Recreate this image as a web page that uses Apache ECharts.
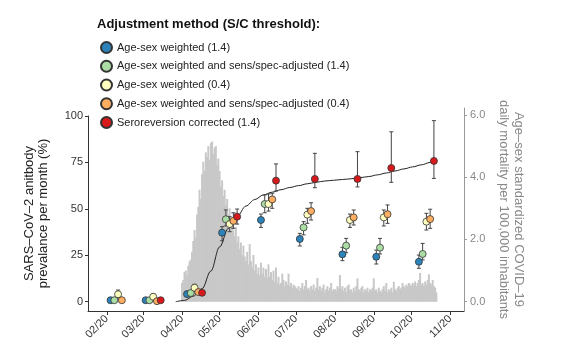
<!DOCTYPE html>
<html><head><meta charset="utf-8">
<script src="https://cdn.jsdelivr.net/npm/echarts@6/dist/echarts.min.js"></script>
<style>html,body{margin:0;padding:0;background:#fff}#c{width:564px;height:358px}</style>
</head><body><div id="c"></div>
<script>
// ---------- DATA ----------
const monthTicks = ['2020-02-01','2020-03-01','2020-04-01','2020-05-01','2020-06-01','2020-07-01','2020-08-01','2020-09-01','2020-10-01','2020-11-01'];
const leftTicks = [0, 25, 50, 75, 100];
const rightTicks = [0, 2, 4, 6];

const clusterDates = ['2020-02-10','2020-03-09','2020-04-11','2020-05-09','2020-06-09','2020-07-10','2020-08-13','2020-09-09','2020-10-13'];
const seriesNames = ['Age-sex weighted (1.4)','Age-sex weighted and sens/spec-adjusted (1.4)','Age-sex weighted (0.4)','Age-sex weighted and sens/spec-adjusted (0.4)','Seroreversion corrected (1.4)'];

const blueVal = [0.8, 0.8, 4.1, 37.2, 44.0, 33.8, 25.5, 24.2, 21.5];
const blueLo  = [0.3, 0.3, 3.0, 32.8, 40.0, 30.0, 22.1, 20.3, 18.0];
const blueHi  = [1.4, 1.4, 5.3, 40.4, 47.2, 36.8, 29.3, 27.8, 25.1];
const greenVal = [0.8, 0.8, 4.7, 44.4, 52.6, 40.0, 30.2, 29.1, 25.7];
const greenLo  = [0.2, 0.2, 3.5, 40.8, 47.9, 36.0, 26.4, 25.7, 22.5];
const greenHi  = [1.6, 1.6, 6.0, 49.4, 57.5, 43.1, 34.1, 34.1, 31.4];
const yellowVal = [4.0, 2.7, 7.5, 41.8, 52.6, 46.9, 44.0, 45.4, 43.1];
const yellowLo  = [2.0, 1.2, 5.6, 37.7, 48.8, 42.2, 40.0, 40.8, 38.6];
const yellowHi  = [6.3, 4.3, 9.4, 45.8, 58.0, 50.3, 47.2, 49.4, 47.6];
const orangeVal = [0.8, 0.3, 5.2, 43.5, 55.1, 48.8, 45.4, 47.1, 44.5];
const orangeLo  = [0.2, 0.0, 4.0, 39.5, 50.3, 44.0, 41.3, 42.2, 39.5];
const orangeHi  = [1.8, 1.2, 6.5, 47.9, 58.4, 53.3, 49.4, 52.1, 49.8];
const redVal = [null, 0.8, 4.8, 45.8, 65.2, 66.1, 66.1, 72.0, 75.8];
const redLo  = [null, 0.3, 3.8, 41.8, 59.6, 61.4, 61.8, 64.3, 66.4];
const redHi  = [null, 1.5, 6.0, 49.9, 74.2, 79.9, 80.8, 91.5, 97.5];

const curveDates = ['2020-03-27','2020-04-03','2020-04-10','2020-04-17','2020-04-24','2020-05-01','2020-05-08','2020-05-15','2020-05-22','2020-05-29','2020-06-05','2020-06-12','2020-06-19','2020-06-26','2020-07-03','2020-07-10','2020-07-17','2020-07-24','2020-07-31','2020-08-07','2020-08-14','2020-08-21','2020-08-28','2020-09-04','2020-09-11','2020-09-18','2020-09-25','2020-10-02','2020-10-09','2020-10-16','2020-10-19'];
const curveValues = [0, 0.7, 3, 7, 16.5, 29.5, 39.5, 46, 51.5, 55, 57.5, 59, 60.3, 61.5, 62.5, 63.5, 64.3, 65, 65.4, 65.8, 66.2, 66.8, 67.4, 68.3, 69.3, 70.4, 71.5, 72.6, 73.7, 75, 75.8];

const mortalityStart = '2020-04-01';
const mortApr = [0.6,0.7,0.95,1.0,0.85,1.15,1.3,1.35,1.6,1.95,2.3,2.05,2.8,3.05,3.6,3.3,4.1,4.5,4.2,4.8,4.65,5.0,4.55,5.1,5.15,4.75,4.95,5.0,4.4,4.6];
const mortMay = [4.2,3.7,3.9,3.4,3.6,3.1,3.3,2.8,3.0,2.5,2.7,2.3,2.1,2.4,1.9,2.1,1.7,1.9,1.5,1.8,1.45,1.3,1.6,1.2,1.85,1.3,1.1,1.5,1.0,1.2,0.9];
const mortJun = [1.1,0.85,1.25,0.9,1.1,0.8,1.05,0.75,1.2,0.8,0.95,0.7,1.0,0.65,1.1,0.6,0.8,0.55,0.6,0.9,0.7,0.5,0.65,0.55,0.9,0.5,0.6,0.45,0.55,0.5];
const mortJul = [0.45,0.4,0.5,0.35,0.45,0.6,0.4,0.5,0.7,0.4,0.45,0.35,0.5,0.4,0.55,0.35,0.45,0.76,0.4,0.5,0.35,0.45,0.55,0.3,0.4,0.5,0.35,0.45,0.6,0.35,0.4];
const mortAug = [0.4,0.35,0.5,0.45,0.86,0.4,0.5,0.35,0.45,0.3,0.5,0.55,0.35,0.4,0.3,0.45,0.35,0.5,0.75,0.4,0.35,0.45,0.5,0.3,0.4,0.35,0.45,0.3,0.4,0.35,0.45];
const mortSep = [0.75,0.35,0.4,0.3,0.45,0.35,0.3,0.4,0.5,0.35,0.6,0.3,0.4,0.35,0.45,0.3,0.64,0.4,0.35,0.45,0.5,0.4,0.45,0.6,0.5,0.45,0.55,0.5,0.6,0.55];
const mortOct = [0.5,0.6,0.55,0.65,0.5,0.6,0.7,0.92,0.55,0.6,0.5,0.65,0.55,0.7,0.88,0.6,0.55,0.7,0.5,0.45,0.3];

// ---------- STYLE ----------
const colors = ['#2b83ba','#abdda4','#ffffbf','#fdae61','#d7191c'];
const dodgeDays = [-6, -3, 0, 3, 6];
const FONT = "'Liberation Sans', Arial, sans-serif";
const DAY = 86400000;

function ts(s) { const p = s.split('-').map(Number); return Date.UTC(p[0], p[1] - 1, p[2]); }
function fmtMonth(v) { const d = new Date(v); return String(d.getUTCMonth() + 1).padStart(2, '0') + '/' + String(d.getUTCFullYear()).slice(2); }

const allVals = [blueVal, greenVal, yellowVal, orangeVal, redVal];
const allLo = [blueLo, greenLo, yellowLo, orangeLo, redLo];
const allHi = [blueHi, greenHi, yellowHi, orangeHi, redHi];

const mortality = [].concat(mortApr, mortMay, mortJun, mortJul, mortAug, mortSep, mortOct);
const barData = mortality.map((v, i) => [ts(mortalityStart) + i * DAY, v]);
const curveData = curveDates.map((d, i) => [ts(d), curveValues[i]]);

const errData = [];
const scatterSeries = seriesNames.map((name, k) => {
  const data = [];
  clusterDates.forEach((d, i) => {
    if (allVals[k][i] == null) return;
    const x = ts(d) + dodgeDays[k] * DAY;
    data.push([x, allVals[k][i]]);
    errData.push([x, allLo[k][i], allHi[k][i]]);
  });
  return {
    name, type: 'scatter', xAxisIndex: 0, yAxisIndex: 0, z: 5,
    symbol: 'circle', symbolSize: 7, data,
    itemStyle: { color: colors[k], borderColor: '#333', borderWidth: 0.8, opacity: 1 }
  };
});

const xMin = ts('2020-01-17'), xMax = ts('2020-11-12');
const tickVals = monthTicks.map(ts);

const option = {
  animation: false,
  textStyle: { fontFamily: FONT },
  title: {
    text: 'Adjustment method (S/C threshold):', left: 97, top: 18, padding: 0,
    textStyle: { fontFamily: FONT, fontSize: 13, fontWeight: 'bold', color: '#111' }
  },
  legend: {
    orient: 'vertical', left: 100, top: 41, padding: 0,
    itemWidth: 11, itemHeight: 11, itemGap: 5.75, icon: 'circle',
    data: seriesNames,
    textStyle: { fontFamily: FONT, fontSize: 11, color: '#222' }
  },
  grid: [
    { left: 88, right: 100, top: 116, bottom: 47 },
    { left: 88, right: 100, top: 108, bottom: 47 }
  ],
  xAxis: [
    {
      type: 'value', gridIndex: 0, min: xMin, max: xMax,
      axisLine: { show: true, onZero: false, lineStyle: { color: '#333', width: 1 } },
      axisTick: { show: true, length: 4, lineStyle: { color: '#333' }, customValues: tickVals },
      axisLabel: {
        customValues: tickVals, formatter: v => fmtMonth(v),
        rotate: 45, margin: 6, fontSize: 11, color: '#333', fontFamily: FONT
      },
      splitLine: { show: false }
    },
    { type: 'value', gridIndex: 1, min: xMin, max: xMax, show: false }
  ],
  yAxis: [
    {
      type: 'value', gridIndex: 0, min: -5, max: 100, position: 'left',
      name: 'SARS\u2013CoV\u20132 anitbody\nprevalance per month (%)',
      nameLocation: 'middle', nameRotate: 90, nameGap: 38,
      nameTextStyle: { fontFamily: FONT, fontSize: 13, lineHeight: 14, color: '#222' },
      axisLine: { show: true, onZero: false, lineStyle: { color: '#333', width: 1 } },
      axisTick: { show: true, length: 3, lineStyle: { color: '#333' }, customValues: leftTicks },
      axisLabel: { customValues: leftTicks, margin: 5, fontSize: 11, color: '#333', fontFamily: FONT },
      splitLine: { show: false }
    },
    {
      type: 'value', gridIndex: 1, min: -0.3, max: 6.225, position: 'right',
      name: 'Age\u2013sex standardized COVID\u201319\ndaily mortality per 100,000 inhabitants',
      nameLocation: 'middle', nameRotate: -90, nameGap: 28,
      nameTextStyle: { fontFamily: FONT, fontSize: 13, lineHeight: 15, color: '#888' },
      axisLine: { show: true, onZero: false, lineStyle: { color: '#999', width: 1 } },
      axisTick: { show: true, length: 3, lineStyle: { color: '#999' }, customValues: rightTicks },
      axisLabel: { customValues: rightTicks, formatter: v => Number(v).toFixed(1), margin: 6, fontSize: 11, color: '#888', fontFamily: FONT },
      splitLine: { show: false }
    }
  ],
  series: [
    {
      name: 'mortality', type: 'bar', xAxisIndex: 1, yAxisIndex: 1, z: 1,
      data: barData, barWidth: 2, silent: true,
      itemStyle: { color: '#c8c8c8' }
    },
    {
      name: 'fit', type: 'line', xAxisIndex: 0, yAxisIndex: 0, z: 2,
      data: curveData, smooth: 0.35, smoothMonotone: 'x', symbol: 'none', silent: true,
      lineStyle: { color: '#222', width: 1 }
    },
    {
      name: 'err', type: 'custom', xAxisIndex: 0, yAxisIndex: 0, z: 3, silent: true,
      data: errData, encode: { x: 0, y: [1, 2] },
      renderItem: function (params, api) {
        const x = api.value(0);
        const a = api.coord([x, api.value(1)]);
        const b = api.coord([x, api.value(2)]);
        const w = 2;
        const st = { stroke: '#444', lineWidth: 1 };
        return {
          type: 'group', children: [
            { type: 'line', shape: { x1: a[0], y1: a[1], x2: b[0], y2: b[1] }, style: st },
            { type: 'line', shape: { x1: a[0] - w, y1: a[1], x2: a[0] + w, y2: a[1] }, style: st },
            { type: 'line', shape: { x1: b[0] - w, y1: b[1], x2: b[0] + w, y2: b[1] }, style: st }
          ]
        };
      }
    }
  ].concat(scatterSeries)
};

echarts.init(document.getElementById('c'), null, { renderer: 'canvas' }).setOption(option);
</script></body></html>
